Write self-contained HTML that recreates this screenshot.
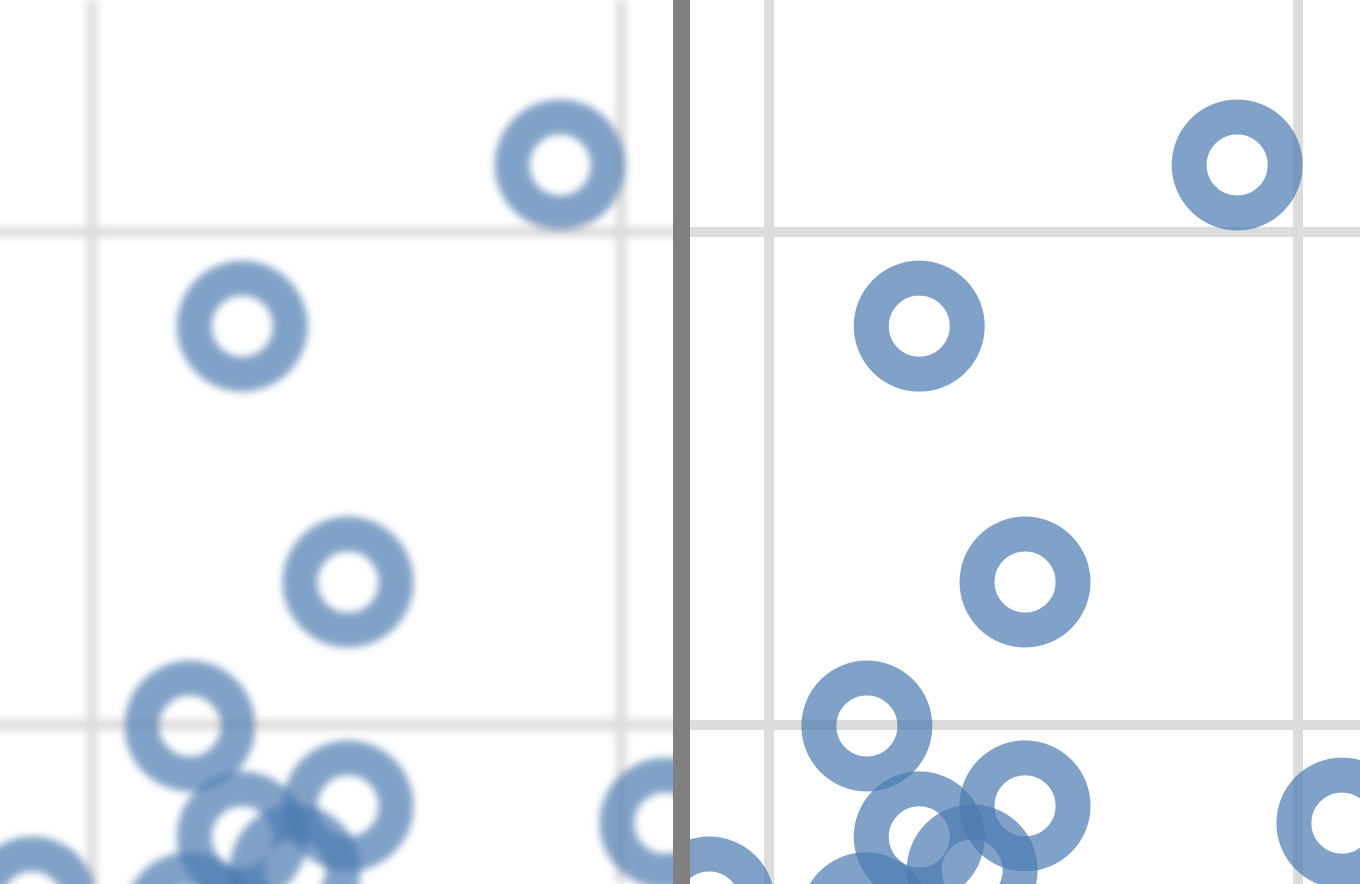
<!DOCTYPE html>
<html><head><meta charset="utf-8"><style>
html,body{margin:0;padding:0;background:#fff;width:1360px;height:884px;overflow:hidden}
svg{display:block}
</style></head><body>
<svg id="chart" width="1360" height="884" xmlns="http://www.w3.org/2000/svg">
<defs>
<filter id="blur" x="-20%" y="-20%" width="140%" height="140%"><feGaussianBlur stdDeviation="4"/></filter>
<clipPath id="leftClip"><rect x="0" y="0" width="673" height="884"/></clipPath>
<clipPath id="rightClip"><rect x="690" y="0" width="670" height="884"/></clipPath>
</defs>
<rect x="0" y="0" width="1360" height="884" fill="#fff"/>
<g id="left" clip-path="url(#leftClip)"><g id="leftInner" filter="url(#blur)" transform="translate(-677,0)"></g></g>
<g id="right" clip-path="url(#rightClip)"></g>
<rect x="673" y="0" width="17" height="884" fill="#808080"/>
</svg>
<script>
const xTicks = [0, 1];
const yTicks = [0, 1];
const xVals = [0.885, 0.284, 0.484, 0.185, 0.284, 0.484, 0.384, 0.183, -0.113, 1.083];
const yVals = [1.136, 0.809, 0.290, -0.002, -0.227, -0.164, -0.294, -0.391, -0.359, -0.199];

const sx = v => 769 + v * 529;
const sy = v => 725 - v * 493;
const NS = 'http://www.w3.org/2000/svg';

function draw(g) {
  xTicks.forEach(t => {
    const l = document.createElementNS(NS, 'line');
    
    
    l.setAttribute('x1', sx(t)); l.setAttribute('x2', sx(t));
    l.setAttribute('y1', 0); l.setAttribute('y2', 884);
    l.setAttribute('stroke', '#dcdcdc'); l.setAttribute('stroke-width', 10);
    g.appendChild(l);
  });
  yTicks.forEach(t => {
    const l = document.createElementNS(NS, 'line');
    
    
    l.setAttribute('x1', 0); l.setAttribute('x2', 2100);
    l.setAttribute('y1', sy(t)); l.setAttribute('y2', sy(t));
    l.setAttribute('stroke', '#dcdcdc'); l.setAttribute('stroke-width', 10);
    g.appendChild(l);
  });
  xVals.forEach((v, i) => {
    const c = document.createElementNS(NS, 'circle');
    
    
    c.setAttribute('cx', sx(v)); c.setAttribute('cy', sy(yVals[i]));
    c.setAttribute('r', 48);
    c.setAttribute('fill', 'none');
    c.setAttribute('stroke', '#4b7bb0'); c.setAttribute('stroke-opacity', 0.7);
    c.setAttribute('stroke-width', 35);
    g.appendChild(c);
  });
}
draw(document.getElementById('leftInner'));
draw(document.getElementById('right'));
</script>
</body></html>
